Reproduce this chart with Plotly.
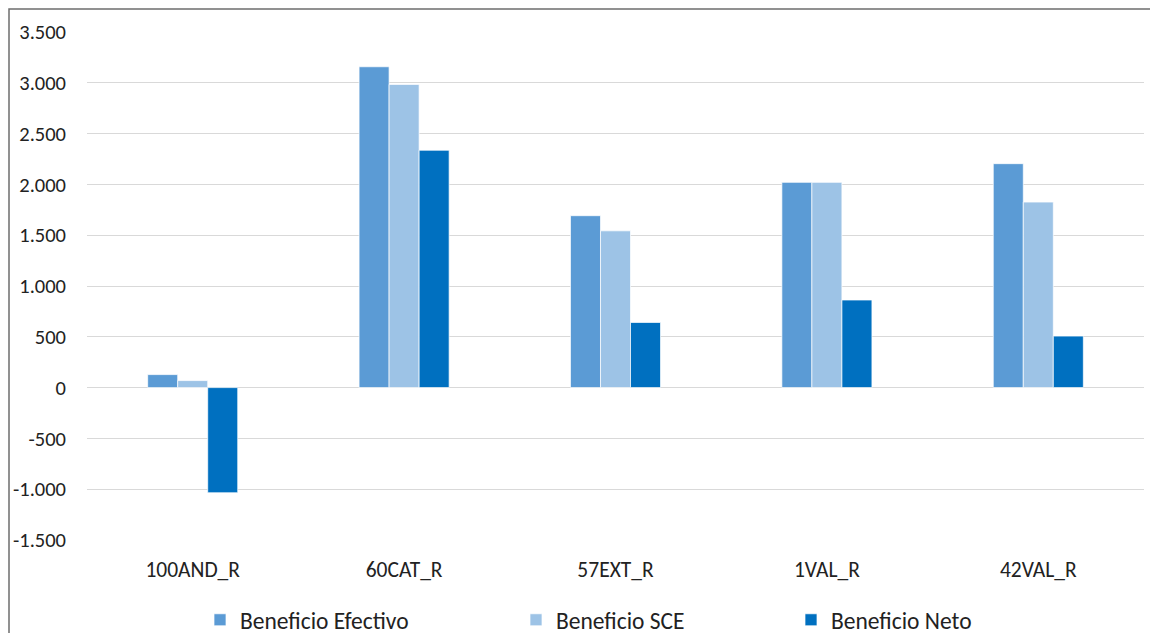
import plotly.graph_objects as go

categories = ["100AND_R", "60CAT_R", "57EXT_R", "1VAL_R", "42VAL_R"]
beneficio_efectivo = [128, 3158, 1692, 2020, 2204]
beneficio_sce = [69, 2984, 1543, 2020, 1826]
beneficio_neto = [-1035, 2336, 641, 862, 507]
series_names = ["Beneficio Efectivo", "Beneficio SCE", "Beneficio Neto"]
y_tickvals = [-1500, -1000, -500, 0, 500, 1000, 1500, 2000, 2500, 3000, 3500]
y_ticktext = ["-1.500", "-1.000", "-500", "0", "500", "1.000", "1.500",
              "2.000", "2.500", "3.000", "3.500"]

colors = ["#5B9BD5", "#9DC3E6", "#0070C0"]
FONT = "Carlito, Calibri, Lato, Liberation Sans, Arial"
W, H = 1158, 633
OFF = 8  # page offset of the figure in the browser
L, R, T, B = 87 - OFF, 22, 32 - OFF, 101
pw, ph = W - L - R, H - T - B

fig = go.Figure()
legends = ["legend", "legend2", "legend3"]
for vals, name, col, lg in zip([beneficio_efectivo, beneficio_sce, beneficio_neto],
                               series_names, colors, legends):
    fig.add_trace(go.Bar(
        x=categories, y=vals, name=name, legend=lg,
        marker=dict(color=col, line=dict(color="rgba(255,255,255,0.7)", width=1)),
    ))

def px2x(p):
    return (p - OFF - L) / pw

def px2y(p):
    return (H - B - (p - OFF)) / ph

# page x where legend text should start
text_start = [238, 554, 829]
common_leg = dict(orientation="h", yanchor="middle", xanchor="left",
                  xref="container", yref="container",
                  bgcolor="rgba(0,0,0,0)", font=dict(family=FONT, size=23.5, color="#222222"),
                  itemwidth=30)
layout_legs = {}
for lg, ts in zip(legends, text_start):
    layout_legs[lg] = dict(common_leg, x=(ts - 38 - OFF) / W, y=(H - (620 - OFF)) / H)

fig.update_layout(
    width=W, height=H,
    margin=dict(l=L, r=R, t=T, b=B, autoexpand=False),
    paper_bgcolor="white", plot_bgcolor="white",
    showlegend=True,
    barmode="group", bargap=0.574, bargroupgap=0,
    font=dict(family=FONT, size=20, color="#222222"),
    xaxis=dict(showgrid=False, showline=False, zeroline=False,
               tickfont=dict(family=FONT, size=21.5, color="#222222"),
               ticks="", ticklabelstandoff=14),
    yaxis=dict(range=[-1500, 3500], tickvals=y_tickvals, ticktext=y_ticktext,
               showgrid=True, gridcolor="#D9D9D9", gridwidth=1,
               zeroline=True, zerolinecolor="#D9D9D9", zerolinewidth=1,
               showline=False, ticks="", ticklabelstandoff=20,
               tickfont=dict(family=FONT, size=20.5, color="#222222")),
    shapes=[dict(type="rect", xref="paper", yref="paper",
                 x0=px2x(9), x1=px2x(1180), y0=px2y(660), y1=px2y(9),
                 line=dict(color="#6E6E6E", width=1.5), layer="below")],
    **layout_legs,
)

fig.write_html("out.html")
